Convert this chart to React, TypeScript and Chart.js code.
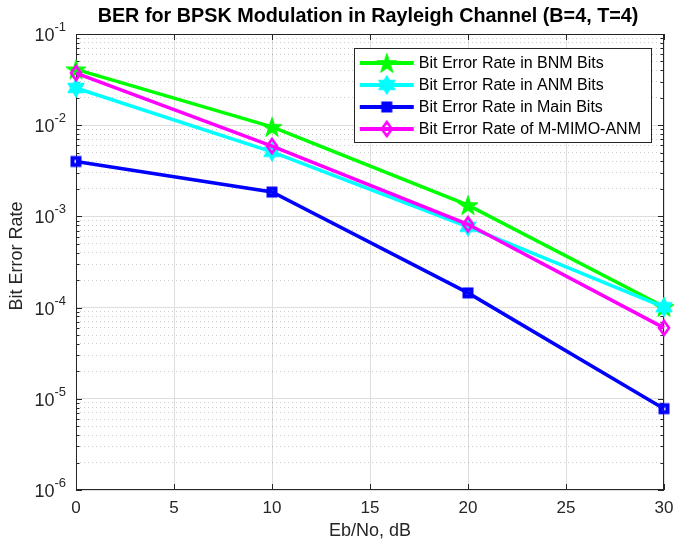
import React, { useEffect, useRef } from 'react';
import { Chart, registerables } from 'chart.js';

Chart.register(...registerables);

// ---- data ----
const ebno = [0, 10, 20, 30];
const berBNM = [0.041, 0.0096, 0.00133, 0.000102];
const berANM = [0.0256, 0.0051, 0.00077, 0.000101];
const berMain = [0.004, 0.00185, 0.000145, 0.0000078];
const berMIMO = [0.0373, 0.0059, 0.00082, 0.00006];
const seriesLabels = [
  'Bit Error Rate in BNM Bits',
  'Bit Error Rate in ANM Bits',
  'Bit Error Rate in Main Bits',
  'Bit Error Rate of M-MIMO-ANM',
];
const seriesColors = ['#00ff00', '#00ffff', '#0000ff', '#ff00ff'];
const seriesMarkers = ['pentagram', 'hexagram', 'square', 'diamond'];
const xTickValues = [0, 5, 10, 15, 20, 25, 30];
const yDecades = [-6, -5, -4, -3, -2, -1];
const chartTitle = 'BER for BPSK Modulation in Rayleigh Channel (B=4, T=4)';
const xTitle = 'Eb/No, dB';
const yTitle = 'Bit Error Rate';

const AXIS_COLOR = '#262626';
const FONT = '"Liberation Sans", Arial, Helvetica, sans-serif';

function makeMarker(kind: string, color: string): HTMLCanvasElement {
  const c = document.createElement('canvas');
  c.width = 24;
  c.height = 24;
  const g = c.getContext('2d')!;
  const cx = 12, cy = 12;
  g.strokeStyle = color;
  g.fillStyle = color;
  g.lineJoin = 'miter';
  g.beginPath();
  if (kind === 'pentagram') {
    const R = 10.5, r = R * 0.382;
    for (let i = 0; i < 10; i++) {
      const a = -Math.PI / 2 + (i * Math.PI) / 5;
      const rad = i % 2 === 0 ? R : r;
      const px = cx + rad * Math.cos(a), py = cy + 1 + rad * Math.sin(a);
      if (i === 0) g.moveTo(px, py); else g.lineTo(px, py);
    }
    g.closePath();
    g.fill();
    g.lineWidth = 1;
    g.stroke();
  } else if (kind === 'hexagram') {
    const R = 9.5, r = R / Math.sqrt(3);
    for (let i = 0; i < 12; i++) {
      const a = -Math.PI / 2 + (i * Math.PI) / 6;
      const rad = i % 2 === 0 ? R : r;
      const px = cx + rad * Math.cos(a), py = cy + rad * Math.sin(a);
      if (i === 0) g.moveTo(px, py); else g.lineTo(px, py);
    }
    g.closePath();
    g.fill();
    g.lineWidth = 1;
    g.stroke();
  } else if (kind === 'square') {
    g.rect(cx - 3.5, cy - 3.5, 7, 7);
    g.lineWidth = 4;
    g.stroke();
  } else if (kind === 'diamond') {
    g.moveTo(cx, cy - 7);
    g.lineTo(cx + 5, cy);
    g.lineTo(cx, cy + 7);
    g.lineTo(cx - 5, cy);
    g.closePath();
    g.lineWidth = 2.6;
    g.stroke();
  }
  return c;
}

function isDecade(v: number) {
  const l = Math.log10(v);
  return Math.abs(l - Math.round(l)) < 1e-9;
}

const matlabPlugin = {
  id: 'matlabAxes',
  beforeDatasetsDraw(chart: any) {
    const { ctx, chartArea: a, scales } = chart;
    const ys = scales.y, xs = scales.x;
    ctx.save();
    ctx.strokeStyle = AXIS_COLOR;
    ctx.lineWidth = 1;
    // inward ticks on y (left and right)
    ys.ticks.forEach((t: any) => {
      const py = Math.round(ys.getPixelForValue(t.value)) + 0.5;
      const len = isDecade(t.value) ? 6 : 3.5;
      ctx.beginPath();
      ctx.moveTo(a.left, py); ctx.lineTo(a.left + len, py);
      ctx.moveTo(a.right, py); ctx.lineTo(a.right - len, py);
      ctx.stroke();
    });
    // inward ticks on x (bottom and top)
    xTickValues.forEach((v) => {
      const px = Math.round(xs.getPixelForValue(v)) + 0.5;
      ctx.beginPath();
      ctx.moveTo(px, a.bottom); ctx.lineTo(px, a.bottom - 6);
      ctx.moveTo(px, a.top); ctx.lineTo(px, a.top + 6);
      ctx.stroke();
    });
    // box
    ctx.strokeRect(Math.round(a.left) + 0.5, Math.round(a.top) + 0.5,
      Math.round(a.right - a.left) - 1, Math.round(a.bottom - a.top) - 1);
    ctx.restore();
  },
  afterDraw(chart: any) {
    const { ctx, chartArea: a, scales } = chart;
    const ys = scales.y, xs = scales.x;
    ctx.save();
    ctx.fillStyle = AXIS_COLOR;
    // y tick labels 10^n
    yDecades.forEach((e) => {
      const py = ys.getPixelForValue(Math.pow(10, e));
      const expText = String(e);
      ctx.font = `13px ${FONT}`;
      const ew = ctx.measureText(expText).width;
      const xe = a.left - 10 - ew;
      ctx.textAlign = 'left';
      ctx.textBaseline = 'alphabetic';
      ctx.fillText(expText, xe, py - 3);
      ctx.font = `18px ${FONT}`;
      ctx.textAlign = 'right';
      ctx.fillText('10', xe, py + 7);
    });
    // x tick labels
    ctx.font = `17px ${FONT}`;
    ctx.textAlign = 'center';
    ctx.textBaseline = 'alphabetic';
    xTickValues.forEach((v) => {
      ctx.fillText(String(v), xs.getPixelForValue(v), a.bottom + 23);
    });
    // axis titles
    ctx.font = `18px ${FONT}`;
    ctx.textBaseline = 'middle';
    ctx.fillText(xTitle, (a.left + a.right) / 2, a.bottom + 41);
    ctx.save();
    ctx.translate(17, (a.top + a.bottom) / 2 - 6);
    ctx.rotate(-Math.PI / 2);
    ctx.fillText(yTitle, 0, 0);
    ctx.restore();
    // title
    ctx.fillStyle = '#000';
    ctx.font = `bold 19.8px ${FONT}`;
    ctx.fillText(chartTitle, (a.left + a.right) / 2 - 2, 17);

    // legend
    const ds = chart.data.datasets;
    ctx.font = `16px ${FONT}`;
    let maxW = 0;
    ds.forEach((d: any) => { maxW = Math.max(maxW, ctx.measureText(d.label).width); });
    const boxRight = a.right - 13;
    const boxW = 65 + maxW + 10;
    const boxLeft = boxRight - boxW;
    const boxTop = a.top + 14;
    const boxH = 94;
    ctx.fillStyle = '#ffffff';
    ctx.fillRect(Math.round(boxLeft), Math.round(boxTop), Math.round(boxW), boxH);
    ctx.strokeStyle = AXIS_COLOR;
    ctx.lineWidth = 1;
    ctx.strokeRect(Math.round(boxLeft) + 0.5, Math.round(boxTop) + 0.5, Math.round(boxW), boxH);
    ds.forEach((d: any, i: number) => {
      const cy = boxTop + 15 + i * 22;
      ctx.strokeStyle = d.borderColor;
      ctx.lineWidth = 4;
      ctx.beginPath();
      ctx.moveTo(boxLeft + 6, cy);
      ctx.lineTo(boxLeft + 60, cy);
      ctx.stroke();
      const m = d.pointStyle as HTMLCanvasElement;
      ctx.drawImage(m, boxLeft + 33 - m.width / 2, cy - m.height / 2);
      ctx.fillStyle = '#000';
      ctx.textAlign = 'left';
      ctx.textBaseline = 'middle';
      ctx.fillText(d.label, boxLeft + 65, cy + 1);
    });
    ctx.restore();
  },
};

export default function App() {
  const ref = useRef<HTMLCanvasElement | null>(null);
  useEffect(() => {
    document.body.style.margin = '0';
    const canvas = ref.current!;
    const seriesValues = [berBNM, berANM, berMain, berMIMO];
    const datasets = seriesValues.map((vals, i) => ({
      label: seriesLabels[i],
      data: ebno.map((x, j) => ({ x, y: vals[j] })),
      borderColor: seriesColors[i],
      backgroundColor: seriesColors[i],
      borderWidth: 3.5,
      pointStyle: makeMarker(seriesMarkers[i], seriesColors[i]),
      pointRadius: 10,
      pointHoverRadius: 10,
      tension: 0,
      clip: false as any,
      order: 3 - i,
    }));
    const chart = new Chart(canvas, {
      type: 'line',
      data: { datasets },
      plugins: [matlabPlugin],
      options: {
        animation: false,
        responsive: false,
        devicePixelRatio: 1,
        events: [],
        layout: { autoPadding: false, padding: { top: 34, right: 10, left: 0, bottom: 0 } },
        plugins: {
          legend: { display: false },
          title: { display: false },
          tooltip: { enabled: false },
        },
        scales: {
          x: {
            type: 'linear',
            min: 0,
            max: 30,
            ticks: { display: false, stepSize: 5 },
            afterBuildTicks: (s: any) => { s.ticks = xTickValues.map((v) => ({ value: v })); },
            afterFit: (s: any) => { s.height = 55; },
            grid: { color: '#dedede', lineWidth: 1, drawTicks: false },
            border: { display: false },
          },
          y: {
            type: 'logarithmic',
            min: 1e-6,
            max: 1e-1,
            ticks: { display: false },
            afterBuildTicks: (s: any) => {
              const t: any[] = [];
              for (let e = -6; e <= -2; e++) {
                for (let m = 1; m <= 9; m++) t.push({ value: m * Math.pow(10, e) });
              }
              t.push({ value: 0.1 });
              s.ticks = t;
            },
            afterFit: (s: any) => { s.width = 76; },
            grid: {
              drawTicks: false,
              lineWidth: 1,
              color: (c: any) => (c.tick && isDecade(c.tick.value) ? '#dedede' : 'rgba(0,0,0,0.2)'),
            },
            border: {
              display: false,
              dash: (c: any) => (c.tick && !isDecade(c.tick.value) ? [1, 3] : []),
            },
          },
        },
      } as any,
    });
    return () => chart.destroy();
  }, []);
  return (
    <div style={{ width: 674, height: 545 }}>
      <canvas ref={ref} width={674} height={545} style={{ display: 'block' }} />
    </div>
  );
}
